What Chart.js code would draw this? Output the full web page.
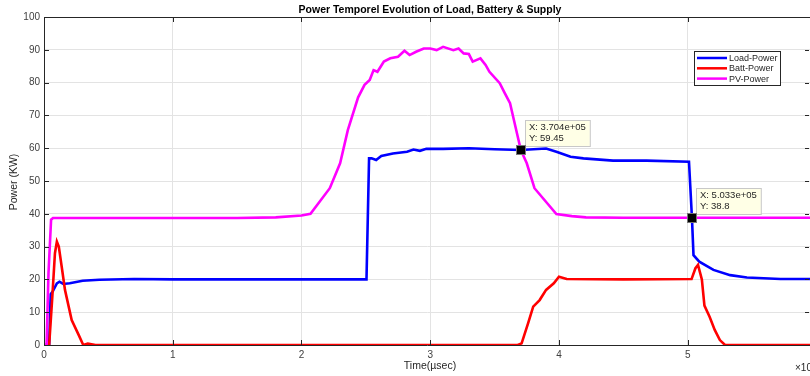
<!DOCTYPE html>
<html>
<head>
<meta charset="utf-8">
<script src="https://cdn.jsdelivr.net/npm/chart.js@4.4.1/dist/chart.umd.min.js"></script>
<style>
  html, body { margin: 0; padding: 0; background: #fff; }
  canvas { display: block; }
</style>
</head>
<body>
<canvas id="powerChart" width="810" height="376"></canvas>
<script>
// time axis is in µsec, power in kW
const loadTime = [0, 4000, 5200, 7000, 10000, 12000, 15000, 20000, 30000, 43000, 70000, 100000, 180000, 250500,
  252500, 254500, 258000, 262000, 271000, 282000, 287000, 292000, 297000, 310000, 330000, 350000, 370400,
  390000, 398000, 409000, 419000, 442000, 468000, 501000, 503300, 504500, 509000, 520000, 533000, 546000,
  572000, 595000];
const loadPower = [0, 0, 15.5, 16.5, 18.8, 19.3, 18.6, 18.8, 19.6, 19.9, 20.1, 20, 20, 20,
  56.9, 56.9, 56.4, 57.6, 58.4, 58.9, 59.6, 59.2, 59.8, 59.8, 60, 59.7, 59.45,
  59.9, 58.9, 57.4, 56.9, 56.2, 56.2, 55.9, 38.8, 27.4, 25.4, 22.9, 21.3, 20.6,
  20.1, 20.1];

const battTime = [0, 4000, 6500, 8500, 10000, 11500, 13700, 16300, 21500, 27000, 30500, 34000, 40000, 100000,
  368000, 371000, 376000, 380000, 385000, 390000, 396000, 400000, 406000, 450000, 503000, 506000, 508000,
  511000, 513000, 517000, 521000, 525000, 529000, 595000];
const battPower = [0, 0, 15, 28, 31.5, 30, 24, 16.8, 7.6, 3, 0, 0.4, 0, 0,
  0, 0.5, 6.6, 11.7, 13.7, 16.8, 18.8, 20.8, 20.1, 20, 20.1, 23.4, 24.4,
  20, 12, 8.6, 4.6, 1.5, 0, 0];

const pvTime = [0, 2000, 3500, 5500, 7000, 50000, 100000, 150000, 180000, 200000, 207000, 222000, 230000,
  236000, 244000, 249000, 253000, 256000, 259000, 264000, 269000, 275000, 280000, 284000, 289000, 295000,
  300000, 305000, 310000, 318000, 322000, 326000, 330000, 333000, 339000, 343000, 346000, 354000, 358000,
  362000, 365000, 368000, 370400, 375000, 381000, 398000, 410000, 421000, 450000, 500000, 550000, 595000];
const pvPower = [0, 0, 22, 38.2, 38.7, 38.7, 38.7, 38.7, 38.9, 39.5, 40.0, 47.8, 55.4,
  65.5, 75.5, 79.3, 80.8, 83.8, 83.3, 86.4, 87.4, 87.9, 89.7, 88.4, 89.4, 90.4,
  90.4, 89.9, 90.9, 89.9, 90.4, 88.9, 88.7, 86.4, 87.4, 85.4, 83.3, 79.8, 76.7,
  73.7, 68.6, 63.5, 59.45, 55.4, 47.8, 39.9, 39.3, 38.9, 38.8, 38.8, 38.8, 38.8];

const seriesLabels = ['Load-Power', 'Batt-Power', 'PV-Power'];
const seriesColors = ['#0000ff', '#ff0000', '#ff00ff'];

const xTicks = [0, 100000, 200000, 300000, 400000, 500000];
const yTicks = [0, 10, 20, 30, 40, 50, 60, 70, 80, 90, 100];

// data cursors
const tipTime = [370400, 503300];
const tipPower = [59.45, 38.8];

const FONT = "'Liberation Sans', Arial, sans-serif";

function toPoints(t, p) {
  return t.map((x, i) => ({ x: x, y: p[i] }));
}

function fmtExp(v) {
  return v.toExponential(3).replace(/e([+-])(\d)$/, 'e$10$2');
}

const framePlugin = {
  id: 'frame',
  afterDraw(chart) {
    const ctx = chart.ctx;
    const a = chart.chartArea;
    const xs = chart.scales.x;
    const ys = chart.scales.y;
    ctx.save();

    // box top line and inward ticks
    ctx.strokeStyle = '#262626';
    ctx.lineWidth = 1;
    ctx.beginPath();
    ctx.moveTo(a.left, a.top + 0.5);
    ctx.lineTo(a.right, a.top + 0.5);
    xTicks.forEach(v => {
      const px = Math.round(xs.getPixelForValue(v)) + 0.5;
      ctx.moveTo(px, a.top);
      ctx.lineTo(px, a.top + 5);
      ctx.moveTo(px, a.bottom);
      ctx.lineTo(px, a.bottom - 5);
    });
    yTicks.forEach(v => {
      const py = Math.round(ys.getPixelForValue(v)) + 0.5;
      ctx.moveTo(a.left, py);
      ctx.lineTo(a.left + 5, py);
      ctx.moveTo(a.right - 1, py);
      ctx.lineTo(a.right - 5, py);
    });
    ctx.stroke();

    // title and axis labels
    ctx.fillStyle = '#000';
    ctx.textAlign = 'center';
    ctx.textBaseline = 'middle';
    ctx.font = 'bold 10.5px ' + FONT;
    ctx.fillText('Power Temporel Evolution of Load, Battery & Supply', 430, 10);

    ctx.fillStyle = '#262626';
    ctx.font = '10.5px ' + FONT;
    ctx.fillText('Time(\u00b5sec)', 430, 366);
    ctx.save();
    ctx.translate(14, 182);
    ctx.rotate(-Math.PI / 2);
    ctx.fillText('Power (KW)', 0, 0);
    ctx.restore();

    ctx.textAlign = 'left';
    ctx.font = '10px ' + FONT;
    ctx.fillText('\u00d710', 795, 368);

    // legend
    const lx = 694, ly = 51, lw = 86, lh = 34;
    ctx.fillStyle = '#fff';
    ctx.fillRect(lx, ly, lw, lh);
    ctx.strokeStyle = '#262626';
    ctx.strokeRect(lx + 0.5, ly + 0.5, lw, lh);
    ctx.font = '9px ' + FONT;
    seriesLabels.forEach((label, i) => {
      const yy = ly + 7 + i * 10.3;
      ctx.strokeStyle = seriesColors[i];
      ctx.lineWidth = 2.5;
      ctx.beginPath();
      ctx.moveTo(lx + 3, yy);
      ctx.lineTo(lx + 33, yy);
      ctx.stroke();
      ctx.fillStyle = '#262626';
      ctx.fillText(label, lx + 35, yy + 0.5);
    });

    // data cursor boxes
    ctx.lineWidth = 1;
    tipTime.forEach((t, i) => {
      const px = xs.getPixelForValue(t);
      const py = ys.getPixelForValue(tipPower[i]);
      const lines = ['X: ' + fmtExp(t), 'Y: ' + String(tipPower[i])];
      ctx.font = '9.5px ' + FONT;
      const w = Math.max(...lines.map(s => ctx.measureText(s).width)) + 8;
      const h = 26;
      const bx = Math.round(px + 4), by = Math.round(py - 4 - h);
      ctx.fillStyle = '#ffffe6';
      ctx.fillRect(bx, by, w, h);
      ctx.strokeStyle = '#c8c8c8';
      ctx.strokeRect(bx + 0.5, by + 0.5, w, h);
      ctx.fillStyle = '#262626';
      lines.forEach((s, k) => ctx.fillText(s, bx + 4, by + 7.5 + k * 11));
      ctx.fillStyle = '#000';
      ctx.fillRect(Math.round(px) - 4, Math.round(py) - 4, 8, 8);
      ctx.strokeStyle = '#777';
      ctx.strokeRect(Math.round(px) - 4.5, Math.round(py) - 4.5, 9, 9);
    });

    ctx.restore();
  }
};

const timeSeries = [loadTime, battTime, pvTime];
const powerSeries = [loadPower, battPower, pvPower];

new Chart(document.getElementById('powerChart'), {
  type: 'line',
  data: {
    datasets: seriesLabels.map((label, i) => ({
      label: label,
      data: toPoints(timeSeries[i], powerSeries[i]),
      borderColor: seriesColors[i],
      borderWidth: 2.6,
      pointRadius: 0,
      tension: 0,
      order: 3 - i
    }))
  },
  options: {
    responsive: false,
    animation: false,
    devicePixelRatio: 1,
    layout: { padding: { top: 17, right: 0, left: 0, bottom: 0 } },
    plugins: {
      legend: { display: false },
      tooltip: { enabled: false },
      title: { display: false }
    },
    scales: {
      x: {
        type: 'linear',
        min: 0,
        max: 595000,
        afterBuildTicks(scale) {
          scale.ticks = xTicks.map(v => ({ value: v }));
        },
        afterFit(scale) { scale.height = 31; },
        grid: { color: '#e3e3e3', lineWidth: 1, drawTicks: false },
        border: { color: '#262626', width: 1 },
        ticks: {
          padding: 4,
          color: '#404040',
          font: { family: FONT, size: 10 },
          maxRotation: 0,
          callback: v => String(v / 100000)
        }
      },
      y: {
        min: 0,
        max: 100,
        afterBuildTicks(scale) {
          scale.ticks = yTicks.map(v => ({ value: v }));
        },
        afterFit(scale) { scale.width = 44; },
        grid: { color: '#e3e3e3', lineWidth: 1, drawTicks: false },
        border: { color: '#262626', width: 1 },
        ticks: {
          padding: 4,
          color: '#404040',
          font: { family: FONT, size: 10 }
        }
      }
    }
  },
  plugins: [framePlugin]
});
</script>
</body>
</html>
